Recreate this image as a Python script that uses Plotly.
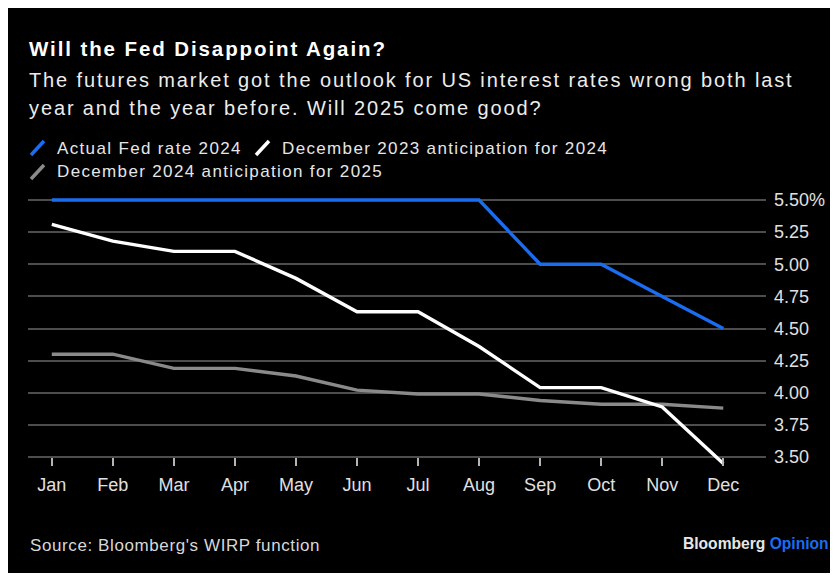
import plotly.graph_objects as go

months = ["Jan", "Feb", "Mar", "Apr", "May", "Jun", "Jul", "Aug", "Sep", "Oct", "Nov", "Dec"]
actual_2024 = [5.50, 5.50, 5.50, 5.50, 5.50, 5.50, 5.50, 5.50, 5.00, 5.00, 4.75, 4.50]
dec2023_for_2024 = [5.31, 5.18, 5.10, 5.10, 4.89, 4.63, 4.63, 4.36, 4.04, 4.04, 3.89, 3.45]
dec2024_for_2025 = [4.30, 4.30, 4.19, 4.19, 4.13, 4.02, 3.99, 3.99, 3.94, 3.91, 3.91, 3.88]
series_names = ["Actual Fed rate 2024", "December 2023 anticipation for 2024", "December 2024 anticipation for 2025"]
series_colors = ["#1a6cf0", "#ffffff", "#8a8a8a"]
y_ticks = [3.50, 3.75, 4.00, 4.25, 4.50, 4.75, 5.00, 5.25, 5.50]
y_ticktext = ["3.50", "3.75", "4.00", "4.25", "4.50", "4.75", "5.00", "5.25", "5.50%"]

# figure is placed by the page at an (8, 8) body offset
OFF = 8
W, H = 830, 565
L, R, T, B = 20, 72, 188, 108
PW, PH = W - L - R, H - T - B
PX_PER_UNIT = 128.5          # vertical pixels per 1 percentage point
PAD_TOP, PAD_BOT = 4, 8      # extra room so lines are not clipped
Y_MIN, Y_MAX = 3.5, 5.5


def px(x):  # screenshot x -> paper fraction
    return (x - OFF - L) / PW


def py(y):  # screenshot y -> paper fraction
    return (H - B - (y - OFF)) / PH


FONT = "Liberation Sans, Arial, sans-serif"


def spaced(text, sp):
    return "<span style='letter-spacing:%.2fpx'>%s</span>" % (sp, text)


fig = go.Figure()
order = [2, 1, 0]
all_vals = [actual_2024, dec2023_for_2024, dec2024_for_2025]
for i in order:
    fig.add_trace(go.Scatter(x=months, y=all_vals[i], mode="lines", name=series_names[i],
                             line=dict(color=series_colors[i], width=3.4), cliponaxis=False,
                             showlegend=False))

shapes = []
# baseline (x axis line) and small end tick
shapes.append(dict(type="line", xref="paper", yref="paper", layer="below",
                   x0=px(28), x1=px(748), y0=py(457), y1=py(457),
                   line=dict(color="#b5b5b5", width=1.5)))
shapes.append(dict(type="line", xref="paper", yref="paper", layer="below",
                   x0=px(748.5), x1=px(767), y0=py(457), y1=py(457),
                   line=dict(color="#000000", width=3)))
shapes.append(dict(type="line", xref="paper", yref="paper", layer="below",
                   x0=px(758), x1=px(764), y0=py(457), y1=py(457),
                   line=dict(color="#777777", width=1.5)))

legend_pos = [(30, 148, 55), (255, 148, 280), (30, 172, 55)]
annotations = []
for (sx, sy, tx), name, col in zip(legend_pos, series_names, series_colors):
    shapes.append(dict(type="line", xref="paper", yref="paper",
                       x0=px(sx + 1), x1=px(sx + 14), y0=py(sy + 7), y1=py(sy - 7),
                       line=dict(color=col, width=3.5)))
    annotations.append(dict(text=spaced(name, 1.35), xref="paper", yref="paper", x=px(tx), y=py(sy),
                            xanchor="left", yanchor="middle", showarrow=False,
                            font=dict(family=FONT, size=17, color="#e6e6e6")))

annotations += [
    dict(text="<b>" + spaced("Will the Fed Disappoint Again?", 1.9) + "</b>", xref="paper", yref="paper",
         x=px(27), y=py(49), xanchor="left", yanchor="middle", showarrow=False,
         font=dict(family=FONT, size=20.5, color="#ffffff")),
    dict(text=spaced("The futures market got the outlook for US interest rates wrong both last", 1.88),
         xref="paper", yref="paper", x=px(27), y=py(80), xanchor="left", yanchor="middle",
         showarrow=False, font=dict(family=FONT, size=20, color="#ececec")),
    dict(text=spaced("year and the year before. Will 2025 come good?", 1.88),
         xref="paper", yref="paper", x=px(27), y=py(108), xanchor="left", yanchor="middle",
         showarrow=False, font=dict(family=FONT, size=20, color="#ececec")),
    dict(text=spaced("Source: Bloomberg's WIRP function", 0.6), xref="paper", yref="paper",
         x=px(28), y=py(545), xanchor="left", yanchor="middle", showarrow=False,
         font=dict(family=FONT, size=17, color="#d8d8d8")),
    dict(text="<b>Bloomberg</b> <b><span style='color:#1a6cf0'>Opinion</span></b>", xref="paper", yref="paper",
         x=px(831), y=py(543), xanchor="right", yanchor="middle", showarrow=False,
         font=dict(family=FONT, size=15.6, color="#e6e6e6")),
]

fig.update_layout(
    width=W, height=H,
    margin=dict(l=L, r=R, t=T, b=B, pad=0),
    paper_bgcolor="#000000",
    plot_bgcolor="#000000",
    showlegend=False,
    shapes=shapes,
    annotations=annotations,
    xaxis=dict(type="category", range=[-0.39, 11.7], showgrid=False, zeroline=False,
               showline=False, ticks="outside", ticklen=8, tickwidth=1.5, tickcolor="#b5b5b5",
               tickfont=dict(family=FONT, size=18, color="#e0e0e0"), ticklabelstandoff=3,
               anchor="free", position=PAD_BOT / PH, fixedrange=True),
    yaxis=dict(side="right",
               range=[Y_MIN - PAD_BOT / PX_PER_UNIT, Y_MAX + PAD_TOP / PX_PER_UNIT],
               tickvals=y_ticks, ticktext=y_ticktext,
               showgrid=True, gridcolor="#4d4d4d", gridwidth=1.5, zeroline=False,
               showline=False, ticks="", tickfont=dict(family=FONT, size=18, color="#e0e0e0"),
               ticklabelstandoff=7, fixedrange=True),
)

fig.write_html("out.html")
